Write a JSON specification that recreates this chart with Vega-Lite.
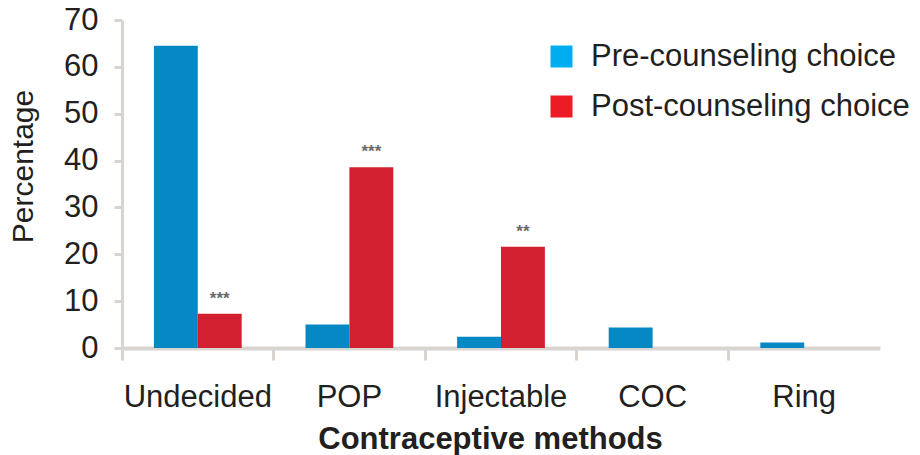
{
  "$schema": "https://vega.github.io/schema/vega-lite/v6.json",
  "autosize": "none",
  "width": 758,
  "height": 328,
  "padding": {"left": 122, "top": 20, "right": 40, "bottom": 107},
  "background": "white",
  "config": {
    "font": "Liberation Sans",
    "view": {"stroke": null},
    "axis": {"labelColor": "#231F20", "titleColor": "#231F20", "grid": false, "domainColor": "#D8D5D1", "tickColor": "#D8D5D1"}
  },
  "data": {
    "values": [
      {"method": "Undecided", "group": "Pre-counseling choice", "pct": 64.5, "sig": ""},
      {"method": "Undecided", "group": "Post-counseling choice", "pct": 7.3, "sig": "***"},
      {"method": "POP", "group": "Pre-counseling choice", "pct": 5.0, "sig": ""},
      {"method": "POP", "group": "Post-counseling choice", "pct": 38.6, "sig": "***"},
      {"method": "Injectable", "group": "Pre-counseling choice", "pct": 2.4, "sig": ""},
      {"method": "Injectable", "group": "Post-counseling choice", "pct": 21.6, "sig": "**"},
      {"method": "COC", "group": "Pre-counseling choice", "pct": 4.4, "sig": ""},
      {"method": "COC", "group": "Post-counseling choice", "pct": 0, "sig": ""},
      {"method": "Ring", "group": "Pre-counseling choice", "pct": 1.2, "sig": ""},
      {"method": "Ring", "group": "Post-counseling choice", "pct": 0, "sig": ""}
    ]
  },
  "resolve": {"axis": {"x": "independent"}, "scale": {"color": "independent"}, "legend": {"color": "independent"}},
  "layer": [
    {
      "mark": {"type": "bar"},
      "encoding": {
        "x": {
          "field": "method",
          "type": "nominal",
          "sort": ["Undecided", "POP", "Injectable", "COC", "Ring"],
          "scale": {"paddingInner": 0, "paddingOuter": 0},
          "axis": {
            "orient": "bottom",
            "title": "Contraceptive methods",
            "titleFontSize": 31,
            "titleFontWeight": "bold",
            "titleX": 368,
            "titleY": 100,
            "titleBaseline": "alphabetic",
            "labelFontSize": 31,
            "labelPadding": 34,
            "labelAngle": 0,
            "ticks": false,
            "domainWidth": 4
          }
        },
        "xOffset": {
          "field": "group",
          "type": "nominal",
          "sort": ["Pre-counseling choice", "Post-counseling choice"],
          "scale": {"paddingInner": 0, "paddingOuter": 0.727}
        },
        "y": {
          "field": "pct",
          "type": "quantitative",
          "scale": {"domain": [0, 70], "nice": false},
          "axis": {
            "values": [0, 10, 20, 30, 40, 50, 60, 70],
            "title": "Percentage",
            "titleFontSize": 30,
            "titleFontWeight": "normal",
            "titleX": -90,
            "titleY": 146,
            "titleAngle": -90,
            "titleAlign": "center",
            "titleBaseline": "alphabetic",
            "labelFontSize": 31,
            "labelPadding": 16,
            "tickSize": 8,
            "tickWidth": 3,
            "domainWidth": 3
          }
        },
        "color": {
          "field": "group",
          "type": "nominal",
          "scale": {"domain": ["Pre-counseling choice", "Post-counseling choice"], "range": ["#0688C5", "#D32030"]},
          "legend": null
        }
      }
    },
    {
      "transform": [{"filter": "datum.sig !== ''"}],
      "mark": {"type": "text", "baseline": "bottom", "dy": -6, "fontSize": 17, "fontWeight": "bold", "color": "#6A6A6A"},
      "encoding": {
        "x": {"field": "method", "type": "nominal", "sort": ["Undecided", "POP", "Injectable", "COC", "Ring"], "axis": null},
        "xOffset": {"field": "group", "type": "nominal", "sort": ["Pre-counseling choice", "Post-counseling choice"]},
        "y": {"field": "pct", "type": "quantitative"},
        "text": {"field": "sig"}
      }
    },
    {
      "mark": {"type": "tick", "opacity": 0},
      "encoding": {
        "x": {
          "field": "method",
          "type": "nominal",
          "sort": ["Undecided", "POP", "Injectable", "COC", "Ring"],
          "axis": {
            "orient": "bottom",
            "title": null,
            "labels": false,
            "domain": false,
            "bandPosition": 0,
            "tickSize": 12,
            "tickWidth": 3
          }
        },
        "y": {"field": "pct", "type": "quantitative"}
      }
    },
    {
      "transform": [{"filter": "false"}],
      "mark": {"type": "square"},
      "encoding": {
        "color": {
          "field": "group",
          "type": "nominal",
          "scale": {"domain": ["Pre-counseling choice", "Post-counseling choice"], "range": ["#00AEEF", "#ED1C24"]},
          "legend": {
            "title": null,
            "orient": "none",
            "legendX": 424,
            "legendY": 21,
            "padding": 0,
            "symbolType": "square",
            "symbolSize": 484,
            "symbolStrokeWidth": 0,
            "symbolOpacity": 1,
            "labelFontSize": 31,
            "labelLimit": 500,
            "labelColor": "#231F20",
            "labelOffset": 14,
            "rowPadding": 18
          }
        }
      }
    }
  ]
}
